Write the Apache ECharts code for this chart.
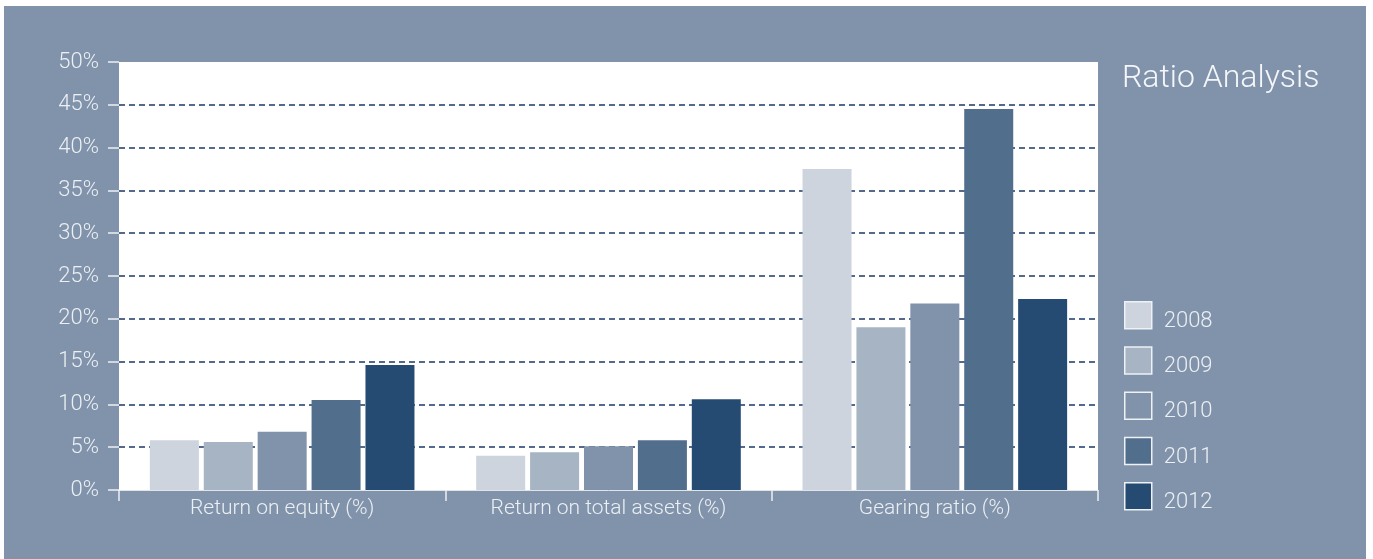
<!DOCTYPE html>
<html>
<head>
<meta charset="utf-8">
<script src="https://cdn.jsdelivr.net/npm/echarts@6/dist/echarts.min.js"></script>
<style>
html,body{margin:0;padding:0;background:#ffffff;width:1373px;height:559px;overflow:hidden;}
#chart{position:absolute;left:4px;top:6px;width:1362px;height:553px;}
</style>
</head>
<body>
<div id="chart"></div>
<script>
const categories = ['Return on equity (%)', 'Return on total assets (%)', 'Gearing ratio (%)'];
const years = ['2008', '2009', '2010', '2011', '2012'];
const v2008 = [5.8, 4.0, 37.5];
const v2009 = [5.6, 4.4, 19.0];
const v2010 = [6.8, 5.1, 21.8];
const v2011 = [10.5, 5.8, 44.5];
const v2012 = [14.6, 10.6, 22.3];
const yTicks = [0, 5, 10, 15, 20, 25, 30, 35, 40, 45, 50];

const seriesValues = [v2008, v2009, v2010, v2011, v2012];
const colors = ['#cdd4de', '#a6b4c4', '#8093ab', '#526e8d', '#264b73'];
const light = '#eceff3';
const fontFam = 'Roboto, "Liberation Sans", sans-serif';

const chart = echarts.init(document.getElementById('chart'));
chart.setOption({
  backgroundColor: '#8093ab',
  animation: false,
  title: {
    text: 'Ratio Analysis',
    left: 1113,
    top: 52,
    textStyle: { color: '#f4f6f9', fontSize: 32, fontWeight: 300, fontFamily: fontFam }
  },
  legend: {
    data: years,
    orient: 'vertical',
    left: 1115,
    top: 290,
    itemWidth: 27,
    itemHeight: 27,
    itemGap: 14,
    icon: 'rect',
    itemStyle: { borderColor: '#eef1f5', borderWidth: 1.5 },
    formatter: '{a|{name}}',
    textStyle: {
      color: light, fontSize: 22, fontWeight: 300, fontFamily: fontFam,
      rich: { a: { color: light, fontSize: 22, fontWeight: 300, fontFamily: fontFam, padding: [12, 0, 0, 7] } }
    }
  },
  grid: {
    left: 115, top: 56, right: 268, bottom: 69,
    show: true, backgroundColor: '#ffffff', borderWidth: 0
  },
  xAxis: {
    type: 'category',
    data: categories,
    axisLine: { show: true, lineStyle: { color: '#dfe4ea', width: 1 } },
    axisTick: { show: true, length: 11, lineStyle: { color: light, width: 1.5 } },
    axisLabel: { color: light, fontSize: 21, fontWeight: 300, fontFamily: fontFam, margin: 8 },
    splitLine: { show: false }
  },
  yAxis: {
    type: 'value',
    min: yTicks[0],
    max: yTicks[yTicks.length - 1],
    interval: 5,
    axisLine: { show: false },
    axisTick: { show: true, length: 11, lineStyle: { color: light, width: 1.5 } },
    axisLabel: { color: light, fontSize: 22, fontWeight: 300, fontFamily: fontFam, margin: 20, formatter: '{value}%' },
    splitLine: {
      show: true,
      showMinLine: false,
      showMaxLine: false,
      lineStyle: { color: '#1d3a68', width: 1.5, type: [6, 4] }
    }
  },
  series: years.map((y, i) => ({
    name: y,
    type: 'bar',
    data: seriesValues[i],
    barWidth: 49,
    barGap: '10%',
    itemStyle: { color: colors[i] },
    z: 3
  }))
});
</script>
</body>
</html>
